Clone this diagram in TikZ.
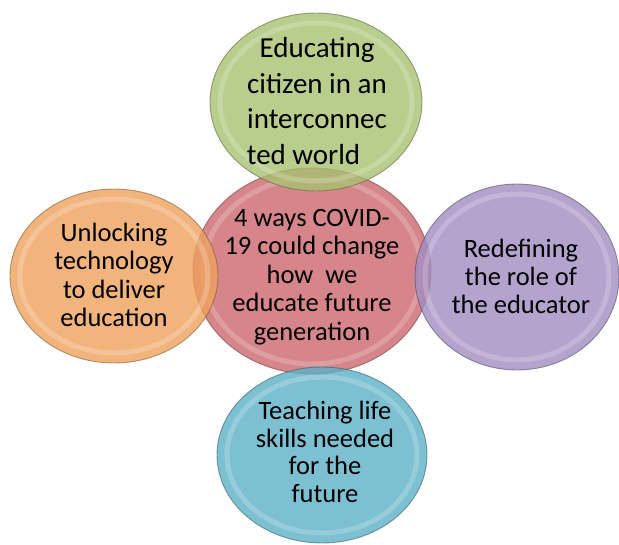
\documentclass[tikz,border=0pt]{standalone}
\usepackage{fontspec}
\setmainfont{Carlito}
\usetikzlibrary{shapes.geometric,calc}
\definecolor{cgreen}{RGB}{167,192,111}
\definecolor{cred}{RGB}{204,104,109}
\definecolor{corange}{RGB}{239,161,93}
\definecolor{cpurple}{RGB}{161,140,192}
\definecolor{cblue}{RGB}{93,176,199}
\tikzset{
  bubble/.style={ellipse, inner sep=0pt, fill=#1, fill opacity=.8,
    draw=#1!55!black, draw opacity=.6, line width=.9pt,
    path picture={
      \path let \p1=(path picture bounding box.north east),
                \p2=(path picture bounding box.south west),
                \n1={abs(\x1-\x2)/2}, \n2={abs(\y1-\y2)/2} in
        coordinate (mid) at ($(\p1)!0.5!(\p2)$)
        [draw=white, opacity=.14, line width=12pt]
        (mid) ellipse [x radius={\n1-10pt}, y radius={\n2-10pt}]
        [draw=white, opacity=.2, line width=5pt]
        (mid) ellipse [x radius={\n1-10pt}, y radius={\n2-10pt}];
    }},
  bigtext/.style={align=center, inner sep=0pt, font=\fontsize{29}{35.5}\selectfont},
  smalltext/.style={align=center, inner sep=0pt, font=\fontsize{26.5}{28.5}\selectfont}
}
\begin{document}
\begin{tikzpicture}[x=1pt,y=-1pt]
\useasboundingbox (0,0) rectangle (619,544);
% the five bubbles, centre one first
\node[bubble=cred, minimum width=238, minimum height=206] (centre) at (312,271) {};
\node[bubble=cgreen, minimum width=212, minimum height=178] (top) at (316,102) {};
\node[bubble=corange, minimum width=208, minimum height=174] (left) at (114,276) {};
\node[bubble=cpurple, minimum width=204, minimum height=186] (right) at (517,277) {};
\node[bubble=cblue, minimum width=210, minimum height=176] (bottom) at (322,455) {};
% their texts
\node[smalltext] (tcentre) at ($(centre.center)+(0,6)$)
  {4 ways COVID-\\19 could change\\how\ \ we\\educate future\\generation};
\node[bigtext] (ttop) at ($(top.center)+(1,-1)$)
  {Educating\\citizen in an\\interconnec\\ted world\hspace*{0.93em}};
\node[smalltext] (tleft) at ($(left.center)+(0,-1)$)
  {Unlocking\\technology\\to deliver\\education};
\node[smalltext, font=\fontsize{26.5}{28}\selectfont] (tright) at ($(right.center)+(4,-1)$)
  {Redefining\\the role of\\the educator};
\node[smalltext, font=\fontsize{26.5}{27.7}\selectfont] (tbottom) at ($(bottom.center)+(3,-3)$)
  {Teaching life\\skills needed\\for the\\future};
\end{tikzpicture}
\end{document}
